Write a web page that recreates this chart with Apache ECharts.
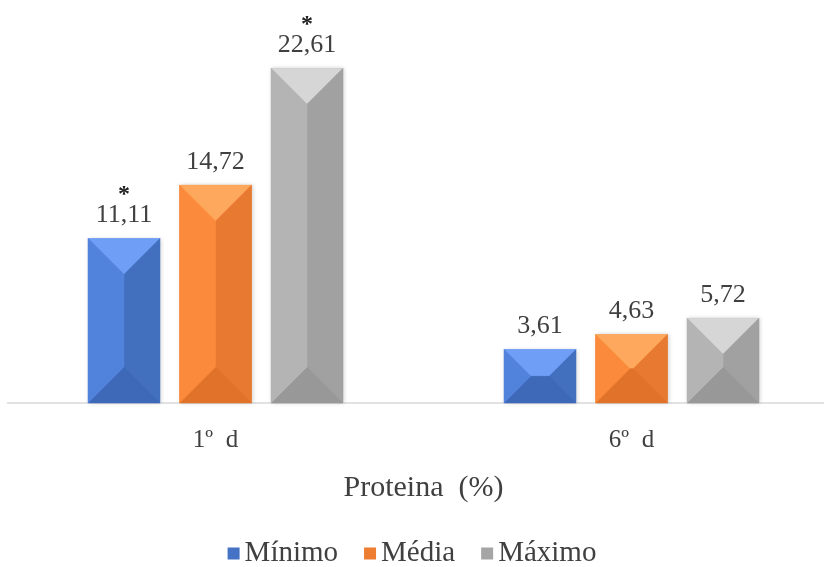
<!DOCTYPE html>
<html>
<head>
<meta charset="utf-8">
<script src="https://cdn.jsdelivr.net/npm/echarts@6/dist/echarts.min.js"></script>
<style>
html,body{margin:0;padding:0;background:#fff;}
#chart{width:824px;height:567px;}
</style>
</head>
<body>
<div id="chart"></div>
<script>
// ---- data ----
var categories = ['1º  d', '6º  d'];
var seriesNames = ['Mínimo', 'Média', 'Máximo'];
var minimo = [11.11, 3.61];
var media = [14.72, 4.63];
var maximo = [22.61, 5.72];
var minimoMarks = ['*', ''];
var mediaMarks = ['', ''];
var maximoMarks = ['*', ''];
var axisTitle = 'Proteina  (%)';

// ---- styles ----
var FONT = 'serif';
var TEXT = '#404040';
var palettes = [
  {base: '#4472C4', top: '#6F9EF6', left: '#5283DC', right: '#4270BF', bottom: '#3D69B8'},
  {base: '#ED7D31', top: '#FDA85C', left: '#FB8A3D', right: '#E77A30', bottom: '#E0722A'},
  {base: '#A5A5A5', top: '#D6D6D6', left: '#B4B4B4', right: '#A1A1A1', bottom: '#989898'}
];
var BAR_W = 72, STEP = 91.5;

function fmt(v) { return v.toFixed(2).replace('.', ','); }

function makeRender(idx, marks) {
  var pal = palettes[idx];
  return function (params, api) {
    var ci = api.value(0), v = api.value(1);
    var topPt = api.coord([ci, v]);
    var basePt = api.coord([ci, 0]);
    var cx = topPt[0] + (idx - 1) * STEP;
    var x0 = cx - BAR_W / 2, x1 = cx + BAR_W / 2;
    var y0 = topPt[1], y1 = basePt[1];
    var w = x1 - x0, h = y1 - y0;
    var d = Math.min(w, h) / 2;
    var TL = [x0 + d, y0 + d], TR = [x1 - d, y0 + d];
    var BR = [x1 - d, y1 - d], BL = [x0 + d, y1 - d];
    function poly(pts, color) {
      return {type: 'polygon', shape: {points: pts}, style: {fill: color, stroke: color, lineWidth: 0.5}};
    }
    var children = [
      {type: 'rect', shape: {x: x0, y: y0, width: w, height: h},
       style: {fill: pal.base, shadowBlur: 4, shadowColor: 'rgba(0,0,0,0.18)', shadowOffsetX: 1, shadowOffsetY: 0}},
      poly([[x0, y0], [x1, y0], TR, TL], pal.top),
      poly([[x1, y0], [x1, y1], BR, TR], pal.right),
      poly([[x1, y1], [x0, y1], BL, BR], pal.bottom),
      poly([[x0, y1], [x0, y0], TL, BL], pal.left),
      {type: 'text', style: {text: fmt(v), x: cx, y: y0 - 23, align: 'center', verticalAlign: 'middle',
        font: '26px ' + FONT, fill: TEXT}}
    ];
    var m = marks[ci];
    if (m) {
      children.push({type: 'text', style: {text: m, x: cx, y: y0 - 44, align: 'center', verticalAlign: 'middle',
        font: 'bold 24px ' + FONT, fill: '#222'}});
    }
    return {type: 'group', children: children};
  };
}

var valueSets = [minimo, media, maximo];
var markSets = [minimoMarks, mediaMarks, maximoMarks];

var series = seriesNames.map(function (name, i) {
  return {
    type: 'custom',
    name: name,
    data: categories.map(function (c, j) { return [j, valueSets[i][j]]; }),
    encode: {x: 0, y: 1},
    itemStyle: {color: palettes[i].base},
    renderItem: makeRender(i, markSets[i]),
    z: 2
  };
});

var chart = echarts.init(document.getElementById('chart'));
chart.setOption({
  animation: false,
  backgroundColor: '#fff',
  textStyle: {fontFamily: FONT},
  grid: {left: 7.5, width: 832, top: 33, bottom: 164, outerBoundsMode: 'none', containLabel: false},
  xAxis: {
    type: 'category',
    data: categories,
    axisLine: {lineStyle: {color: '#d9d9d9', width: 1.5}},
    axisTick: {show: false},
    axisLabel: {fontFamily: FONT, fontSize: 25, color: TEXT, margin: 25},
    name: axisTitle,
    nameLocation: 'middle',
    nameGap: 70,
    nameTextStyle: {fontFamily: FONT, fontSize: 30, color: TEXT}
  },
  yAxis: {
    type: 'value', min: 0, max: 25, show: false,
    splitLine: {show: false}
  },
  legend: {
    bottom: -6,
    left: 'center',
    itemWidth: 12, itemHeight: 12,
    itemGap: 26,
    icon: 'rect',
    textStyle: {fontFamily: FONT, fontSize: 29, color: TEXT},
    data: seriesNames
  },
  series: series
});
</script>
</body>
</html>
